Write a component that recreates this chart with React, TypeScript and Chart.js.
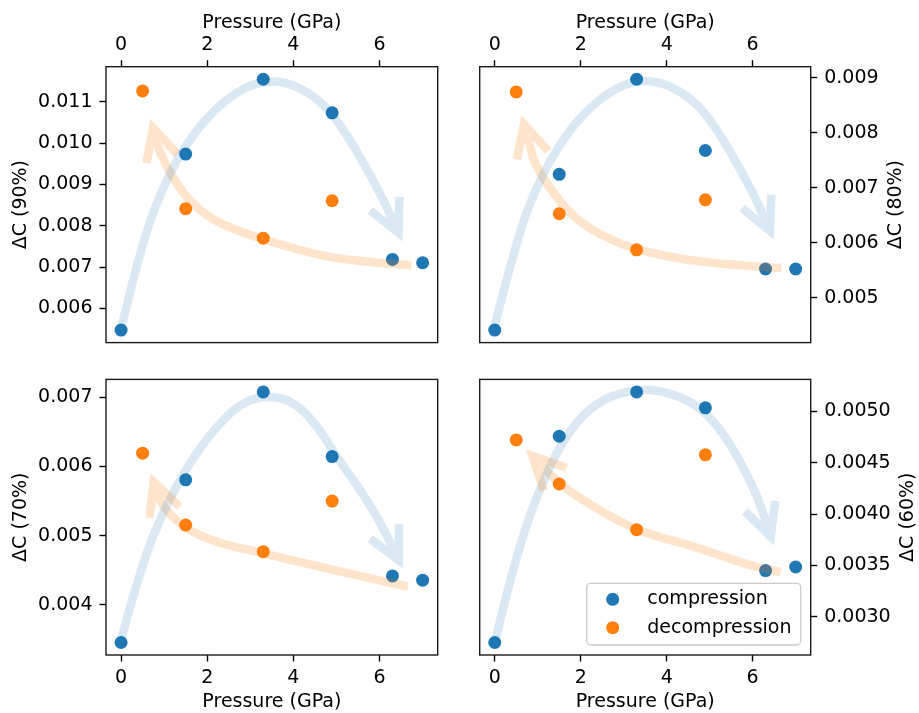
import React, { useEffect, useRef } from "react";
import { Chart, registerables } from "chart.js";

Chart.register(...registerables);

const FONT = "'DejaVu Sans', 'Liberation Sans', sans-serif";
const FONT_SIZE = 19;
const BLUE = "#1f77b4";
const ORANGE = "#ff7f0e";
const ARROW_ALPHA_BLUE = 0.17;
const ARROW_ALPHA_ORANGE = 0.21;
const ARROW_WIDTH = 8.5;

// ---------- data ----------
const compressionPressure = [0, 1.5, 3.3, 4.9, 6.3, 7.0];
const decompressionPressure = [0.5, 1.5, 3.3, 4.9];

const compression90 = [0.005477, 0.009735, 0.011547, 0.010735, 0.007186, 0.007106];
const decompression90 = [0.011265, 0.008414, 0.0077, 0.008607];
const compression80 = [0.004413, 0.007246, 0.008976, 0.00768, 0.005524, 0.005524];
const decompression80 = [0.008746, 0.006529, 0.005873, 0.006783];
const compression70 = [0.003457, 0.005808, 0.007078, 0.006144, 0.004419, 0.004357];
const decompression70 = [0.006193, 0.005154, 0.004769, 0.0055];
const compression60 = [0.002748, 0.004759, 0.005191, 0.005036, 0.003449, 0.003484];
const decompression60 = [0.004723, 0.004293, 0.003848, 0.004578];

// guide arrows (compression path and decompression path)
const arrowUpX90 = [0.02, 0.37, 0.72, 1.11, 1.5, 1.97, 2.51, 3.05, 3.6, 4.14, 4.69, 5.15, 5.62, 6.05, 6.44];
const arrowUpY90 = [0.00559, 0.00704, 0.00824, 0.0092, 0.00993, 0.01057, 0.01109, 0.01141, 0.01149, 0.01133, 0.01093, 0.01033, 0.00953, 0.0087, 0.00783];
const arrowDownX90 = [6.74, 5.85, 4.69, 3.29, 2.28, 1.65, 1.19, 0.9, 0.74];
const arrowDownY90 = [0.00704, 0.00712, 0.00728, 0.00768, 0.00808, 0.00856, 0.0092, 0.0098, 0.01037];

const arrowUpX80 = [0.0, 0.37, 0.72, 1.11, 1.5, 1.97, 2.51, 3.05, 3.6, 4.14, 4.69, 5.15, 5.62, 6.03, 6.4];
const arrowUpY80 = [0.0045, 0.00559, 0.0065, 0.00722, 0.00776, 0.00825, 0.00864, 0.00888, 0.00894, 0.00882, 0.00852, 0.00807, 0.00746, 0.00686, 0.00622];
const arrowDownX80 = [6.67, 5.77, 4.61, 3.33, 2.44, 1.82, 1.36, 0.97, 0.8, 0.68];
const arrowDownY80 = [0.00554, 0.00559, 0.00568, 0.00588, 0.006165, 0.0065, 0.00692, 0.0074, 0.00782, 0.00816];

const arrowUpX70 = [0, 0.35, 0.74, 1.2, 1.75, 2.37, 2.91, 3.46, 4.0, 4.55, 5.01, 5.55, 6.02, 6.45];
const arrowUpY70 = [0.003497, 0.004265, 0.004986, 0.005611, 0.006187, 0.006667, 0.006931, 0.007003, 0.006908, 0.006571, 0.006138, 0.005659, 0.005179, 0.004644];
const arrowDownX70 = [6.66, 4.93, 3.3, 2.21, 1.59, 1.2, 0.92, 0.76];
const arrowDownY70 = [0.004265, 0.004506, 0.004746, 0.004914, 0.005082, 0.005274, 0.0055, 0.005777];

const arrowUpX60 = [0.02, 0.37, 0.76, 1.15, 1.53, 2.0, 2.54, 3.09, 3.63, 4.17, 4.71, 5.18, 5.64, 6.08, 6.42];
const arrowUpY60 = [0.002782, 0.003364, 0.003915, 0.004335, 0.004658, 0.004934, 0.005112, 0.005192, 0.005209, 0.00516, 0.005047, 0.004852, 0.004561, 0.00419, 0.003782];
const arrowDownX60 = [6.65, 5.88, 4.71, 3.32, 2.23, 1.46, 0.88];
const arrowDownY60 = [0.003435, 0.00351, 0.003672, 0.00385, 0.004092, 0.004318, 0.004565];

// ticks
const xTicks = [0, 2, 4, 6];
const yTicks90 = [0.006, 0.007, 0.008, 0.009, 0.01, 0.011];
const yTicks80 = [0.005, 0.006, 0.007, 0.008, 0.009];
const yTicks70 = [0.004, 0.005, 0.006, 0.007];
const yTicks60 = [0.003, 0.0035, 0.004, 0.0045, 0.005];

const xLabel = "Pressure (GPa)";
const seriesLabels = ["compression", "decompression"];

// ---------- helpers ----------
const zip = (xs: number[], ys: number[]) => xs.map((x, i) => ({ x, y: ys[i] }));
const padRange = (vals: number[]) => {
  const lo = Math.min(...vals);
  const hi = Math.max(...vals);
  const m = (hi - lo) * 0.05;
  return [lo - m, hi + m];
};
const rgba = (hex: string, a: number) => {
  const n = parseInt(hex.slice(1), 16);
  return `rgba(${(n >> 16) & 255},${(n >> 8) & 255},${n & 255},${a})`;
};

// Arrow heads: drawn opaque on a scratch canvas, with the shaft region removed,
// then composited with the same alpha as the shaft (so no double-alpha at the tip).
const arrowHeadPlugin = {
  id: "arrowHeads",
  afterDatasetsDraw(chart: any) {
    const ctx = chart.ctx;
    const W = chart.canvas.width;
    const H = chart.canvas.height;
    chart.data.datasets.forEach((ds: any, i: number) => {
      if (!ds.arrowHead) return;
      const meta = chart.getDatasetMeta(i);
      const pts = meta.data;
      const n = pts.length;
      if (n < 2) return;
      const tip = pts[n - 1];
      const prev = pts[n - 2];
      const ang = Math.atan2(tip.y - prev.y, tip.x - prev.x);
      const L = 36;
      const half = (26.6 * Math.PI) / 180;
      const off = document.createElement("canvas");
      off.width = W;
      off.height = H;
      const o = off.getContext("2d") as CanvasRenderingContext2D;
      o.beginPath();
      o.moveTo(tip.x - L * Math.cos(ang - half), tip.y - L * Math.sin(ang - half));
      o.lineTo(tip.x, tip.y);
      o.lineTo(tip.x - L * Math.cos(ang + half), tip.y - L * Math.sin(ang + half));
      o.strokeStyle = ds.arrowColor;
      o.lineWidth = ds.borderWidth;
      o.lineJoin = "miter";
      o.lineCap = "butt";
      o.stroke();
      // remove the part already covered by the shaft
      o.globalCompositeOperation = "destination-out";
      o.beginPath();
      meta.dataset.path(o);
      o.lineWidth = ds.borderWidth;
      o.lineCap = "butt";
      o.lineJoin = "round";
      o.strokeStyle = "#000";
      o.stroke();
      ctx.save();
      ctx.globalAlpha = ds.arrowAlpha;
      ctx.drawImage(off, 0, 0);
      ctx.restore();
    });
  },
};

const framePlugin = {
  id: "frame",
  afterDraw(chart: any) {
    const { ctx, chartArea } = chart;
    ctx.save();
    ctx.strokeStyle = "#1a1a1a";
    ctx.lineWidth = 1.4;
    ctx.strokeRect(chartArea.left, chartArea.top, chartArea.right - chartArea.left, chartArea.bottom - chartArea.top);
    ctx.restore();
  },
};

const makeRightTitlePlugin = (text: string, x: number) => ({
  id: "rightTitle",
  afterDraw(chart: any) {
    const { ctx, chartArea } = chart;
    ctx.save();
    ctx.translate(x, (chartArea.top + chartArea.bottom) / 2);
    ctx.rotate(-Math.PI / 2);
    ctx.font = `${FONT_SIZE}px ${FONT}`;
    ctx.fillStyle = "#000";
    ctx.textAlign = "center";
    ctx.textBaseline = "middle";
    ctx.fillText(text, 0, 0);
    ctx.restore();
  },
});

const insetLegendPlugin = {
  id: "insetLegend",
  afterDraw(chart: any) {
    const { ctx, chartArea } = chart;
    const items = chart.data.datasets.filter((d: any) => d.inLegend);
    const w = 214;
    const h = 61.7;
    const x0 = chartArea.right - 10 - w;
    const y0 = chartArea.bottom - 10 - h;
    ctx.save();
    ctx.beginPath();
    ctx.roundRect(x0, y0, w, h, 4);
    ctx.fillStyle = "rgba(255,255,255,0.8)";
    ctx.fill();
    ctx.strokeStyle = "#cccccc";
    ctx.lineWidth = 1.3;
    ctx.stroke();
    items.forEach((it: any, i: number) => {
      const cy = y0 + 16 + i * 28.4;
      ctx.beginPath();
      ctx.arc(x0 + 26, cy, 6.5, 0, Math.PI * 2);
      ctx.fillStyle = it.backgroundColor;
      ctx.fill();
      ctx.fillStyle = "#000";
      ctx.font = `${FONT_SIZE}px ${FONT}`;
      ctx.textAlign = "left";
      ctx.textBaseline = "middle";
      ctx.fillText(it.label, x0 + 60.6, cy);
    });
    ctx.restore();
  },
};

type PanelCfg = {
  key: string;
  left: number;
  top: number;
  w: number;
  h: number;
  xPos: "top" | "bottom";
  yPos: "left" | "right";
  yLabel: string;
  comp: number[];
  decomp: number[];
  upX: number[];
  upY: number[];
  downX: number[];
  downY: number[];
  yTicks: number[];
  yDecimals: number;
  pad: { left: number; top: number; right: number; bottom: number };
  yWidth: number;
  xHeight: number;
  rightTitleX?: number;
  legend?: boolean;
};

const panels: PanelCfg[] = [
  {
    key: "p90", left: 0, top: 0, w: 459, h: 361, xPos: "top", yPos: "left", yLabel: "ΔC (90%)",
    comp: compression90, decomp: decompression90, upX: arrowUpX90, upY: arrowUpY90, downX: arrowDownX90, downY: arrowDownY90,
    yTicks: yTicks90, yDecimals: 3, pad: { left: 0, top: 0, right: 21.3, bottom: 17.5 }, yWidth: 106, xHeight: 66.7,
  },
  {
    key: "p80", left: 459, top: 0, w: 460, h: 361, xPos: "top", yPos: "right", yLabel: "ΔC (80%)",
    comp: compression80, decomp: decompression80, upX: arrowUpX80, upY: arrowUpY80, downX: arrowDownX80, downY: arrowDownY80,
    yTicks: yTicks80, yDecimals: 3, pad: { left: 20.7, top: 0, right: 0, bottom: 17.5 }, yWidth: 108.3, xHeight: 66.7,
    rightTitleX: 437.5,
  },
  {
    key: "p70", left: 0, top: 361, w: 459, h: 352, xPos: "bottom", yPos: "left", yLabel: "ΔC (70%)",
    comp: compression70, decomp: decompression70, upX: arrowUpX70, upY: arrowUpY70, downX: arrowDownX70, downY: arrowDownY70,
    yTicks: yTicks70, yDecimals: 3, pad: { left: 0, top: 17.3, right: 21.3, bottom: 0 }, yWidth: 106, xHeight: 58,
  },
  {
    key: "p60", left: 459, top: 361, w: 460, h: 352, xPos: "bottom", yPos: "right", yLabel: "ΔC (60%)",
    comp: compression60, decomp: decompression60, upX: arrowUpX60, upY: arrowUpY60, downX: arrowDownX60, downY: arrowDownY60,
    yTicks: yTicks60, yDecimals: 4, pad: { left: 20.7, top: 17.3, right: 0, bottom: 0 }, yWidth: 108.3, xHeight: 58,
    rightTitleX: 449, legend: true,
  },
];

function buildConfig(p: PanelCfg): any {
  const [xMin, xMax] = padRange([...compressionPressure, ...decompressionPressure]);
  const [yMin, yMax] = padRange([...p.comp, ...p.decomp]);
  const tickFont = { family: FONT, size: FONT_SIZE };
  const grid = {
    display: true,
    drawOnChartArea: false,
    drawTicks: true,
    tickLength: 6.5,
    tickWidth: 1.4,
    tickColor: "#000",
  };
  const plugins: any[] = [arrowHeadPlugin, framePlugin];
  if (p.rightTitleX !== undefined) plugins.push(makeRightTitlePlugin(p.yLabel, p.rightTitleX));
  if (p.legend) plugins.push(insetLegendPlugin);

  const arrowDataset = (xs: number[], ys: number[], color: string, alpha: number, label: string) => ({
    label,
    data: zip(xs, ys),
    showLine: true,
    borderColor: rgba(color, alpha),
    arrowColor: color,
    arrowAlpha: alpha,
    borderWidth: ARROW_WIDTH,
    borderCapStyle: "butt",
    borderJoinStyle: "round",
    tension: 0.4,
    pointRadius: 0,
    pointHoverRadius: 0,
    fill: false,
    arrowHead: true,
    order: 0,
  });

  return {
    type: "scatter",
    data: {
      datasets: [
        arrowDataset(p.upX, p.upY, BLUE, ARROW_ALPHA_BLUE, "compression path"),
        arrowDataset(p.downX, p.downY, ORANGE, ARROW_ALPHA_ORANGE, "decompression path"),
        {
          label: seriesLabels[0],
          data: zip(compressionPressure, p.comp),
          backgroundColor: BLUE,
          borderWidth: 0,
          pointRadius: 6.5,
          pointHoverRadius: 6.5,
          inLegend: true,
          order: 2,
        },
        {
          label: seriesLabels[1],
          data: zip(decompressionPressure, p.decomp),
          backgroundColor: ORANGE,
          borderWidth: 0,
          pointRadius: 6.5,
          pointHoverRadius: 6.5,
          inLegend: true,
          order: 1,
        },
      ],
    },
    options: {
      responsive: false,
      animation: false,
      devicePixelRatio: 1,
      events: [],
      layout: { padding: p.pad },
      plugins: { legend: { display: false }, tooltip: { enabled: false } },
      scales: {
        x: {
          type: "linear",
          position: p.xPos,
          min: xMin,
          max: xMax,
          afterBuildTicks: (s: any) => {
            s.ticks = xTicks.map((v) => ({ value: v }));
          },
          afterFit: (s: any) => {
            s.height = p.xHeight;
          },
          ticks: {
            font: tickFont,
            color: "#000",
            padding: p.xPos === "top" ? 3.8 : 5.1,
            maxRotation: 0,
            autoSkip: false,
            callback: (v: number) => String(v),
          },
          grid,
          border: { display: false },
          title: {
            display: true,
            text: xLabel,
            font: tickFont,
            color: "#000",
            padding: p.xPos === "top" ? { top: 11.5, bottom: 0 } : { top: 0, bottom: 0 },
          },
        },
        y: {
          type: "linear",
          position: p.yPos,
          min: yMin,
          max: yMax,
          afterBuildTicks: (s: any) => {
            s.ticks = p.yTicks.map((v) => ({ value: v }));
          },
          afterFit: (s: any) => {
            s.width = p.yWidth;
          },
          ticks: {
            font: tickFont,
            color: "#000",
            padding: 7,
            autoSkip: false,
            callback: (v: number) => v.toFixed(p.yDecimals),
          },
          grid,
          border: { display: false },
          title: {
            display: p.yPos === "left",
            text: p.yLabel,
            font: tickFont,
            color: "#000",
            padding: { top: 9.4, bottom: 0 },
          },
        },
      },
    },
    plugins,
  };
}

function Panel({ cfg }: { cfg: PanelCfg }) {
  const ref = useRef<HTMLCanvasElement>(null);
  useEffect(() => {
    if (!ref.current) return;
    const chart = new Chart(ref.current, buildConfig(cfg));
    return () => chart.destroy();
  }, [cfg]);
  return (
    <canvas
      ref={ref}
      width={cfg.w}
      height={cfg.h}
      style={{ position: "absolute", left: cfg.left, top: cfg.top, width: cfg.w, height: cfg.h }}
    />
  );
}

export default function App() {
  return (
    <div style={{ position: "absolute", left: 0, top: 0, width: 919, height: 713, background: "#fff" }}>
      {panels.map((p) => (
        <Panel key={p.key} cfg={p} />
      ))}
    </div>
  );
}
